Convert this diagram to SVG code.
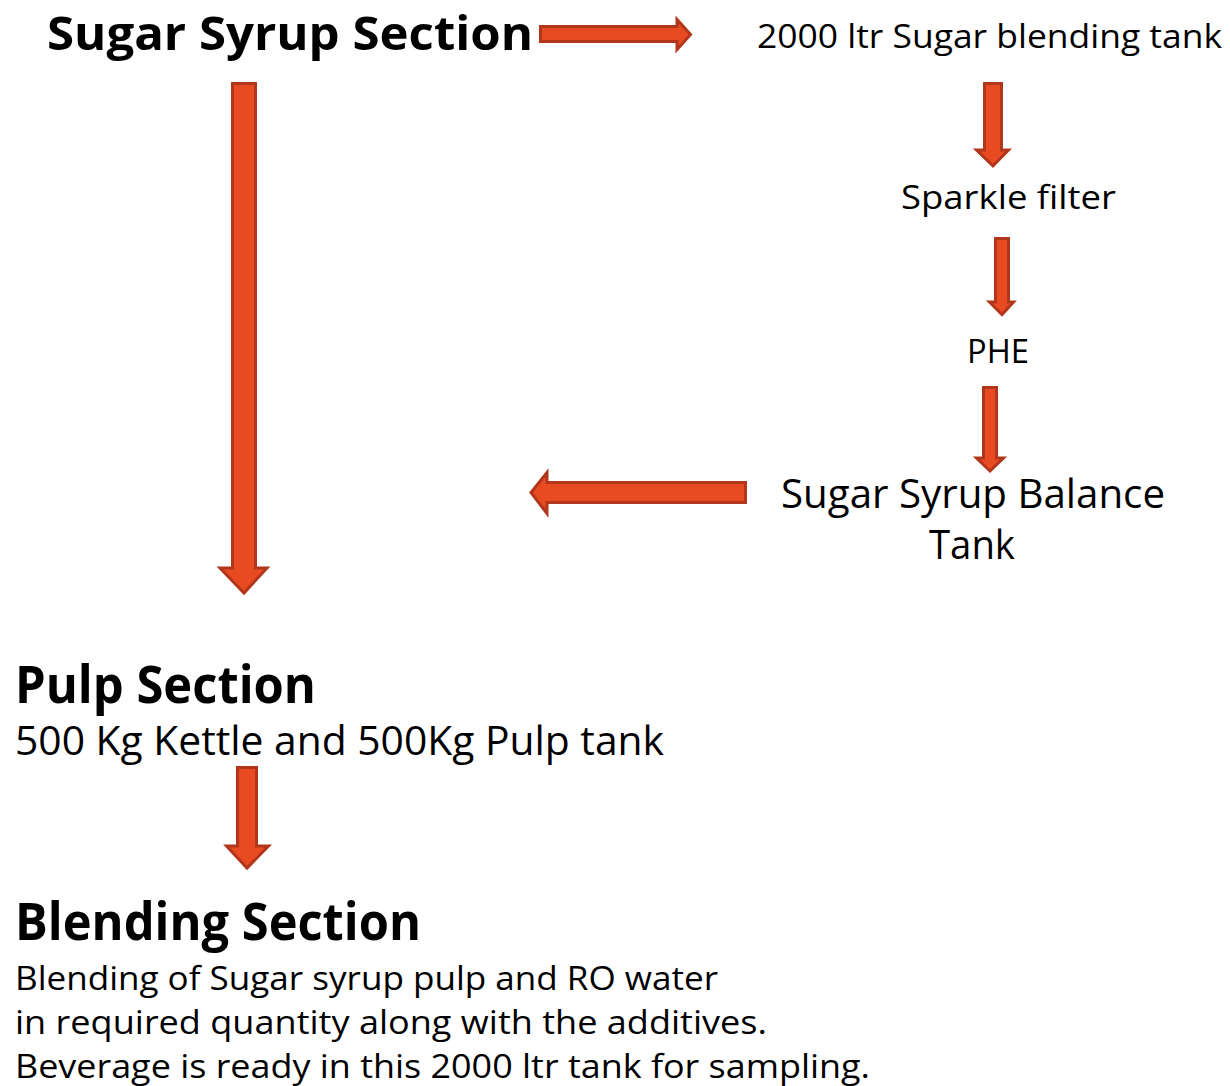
<svg xmlns="http://www.w3.org/2000/svg" width="1230" height="1086" viewBox="0 0 1230 1086">
<style>
text{font-family:"Open Sans","Noto Sans","DejaVu Sans",sans-serif;fill:#000}
.h{font-weight:bold;font-size:52px}
.t{font-size:47px}
.b{font-size:33px}
.m{font-size:40px}
.a{fill:#E84B21;stroke:#B2361B;stroke-width:3;stroke-linejoin:miter}
</style>
<rect width="1230" height="1086" fill="#fff"/>
<g id="connectors">
<path class="a" d="M540.5,26.5 H677 V19.5 L690.5,34.5 L677,49.5 V41.5 H540.5 Z"/>
<path class="a" d="M232.5,83.5 H255.5 V568 H267 L244,593 L220,568 H232.5 Z"/>
<path class="a" d="M984.5,83.5 H1001.5 V150 H1008.5 L993,166 L976.5,150 H984.5 Z"/>
<path class="a" d="M995.5,238.5 H1008.5 V302 H1013.5 L1002,314.5 L989.5,302 H995.5 Z"/>
<path class="a" d="M983.5,387.5 H996.5 V458 H1003.5 L990,471 L976.5,458 H983.5 Z"/>
<path class="a" d="M745.5,482.5 V502.5 H547 V513.5 L531,492.5 L547,472.5 V482.5 Z"/>
<path class="a" d="M237.5,767.5 H256.5 V846 H268.5 L247,868 L226.5,846 H237.5 Z"/>
</g>
<g id="sugar-syrup-section"><text class="h t" x="47" y="50" textLength="486" lengthAdjust="spacingAndGlyphs">Sugar Syrup Section</text></g>
<g id="blending-tank"><text class="b" x="757" y="48" textLength="465" lengthAdjust="spacingAndGlyphs">2000 ltr Sugar blending tank</text></g>
<g id="sparkle-filter"><text class="b" x="901" y="209" textLength="215" lengthAdjust="spacingAndGlyphs">Sparkle filter</text></g>
<g id="phe"><text class="b" x="967" y="363" textLength="62" lengthAdjust="spacingAndGlyphs">PHE</text></g>
<g id="balance-tank">
<text class="m" x="781" y="508" textLength="384" lengthAdjust="spacingAndGlyphs">Sugar Syrup Balance</text>
<text class="m" x="929" y="559" textLength="86" lengthAdjust="spacingAndGlyphs">Tank</text>
</g>
<g id="pulp-section">
<text class="h" x="15" y="703" textLength="301" lengthAdjust="spacingAndGlyphs">Pulp Section</text>
<text class="m" x="15" y="755" textLength="649" lengthAdjust="spacingAndGlyphs">500 Kg Kettle and 500Kg Pulp tank</text>
</g>
<g id="blending-section">
<text class="h" x="15" y="940" textLength="406" lengthAdjust="spacingAndGlyphs">Blending Section</text>
<text class="b" x="15" y="990" textLength="703" lengthAdjust="spacingAndGlyphs">Blending of Sugar syrup pulp and RO water</text>
<text class="b" x="15" y="1034" textLength="752" lengthAdjust="spacingAndGlyphs">in required quantity along with the additives.</text>
<text class="b" x="15" y="1078" textLength="855" lengthAdjust="spacingAndGlyphs">Beverage is ready in this 2000 ltr tank for sampling.</text>
</g>
</svg>
